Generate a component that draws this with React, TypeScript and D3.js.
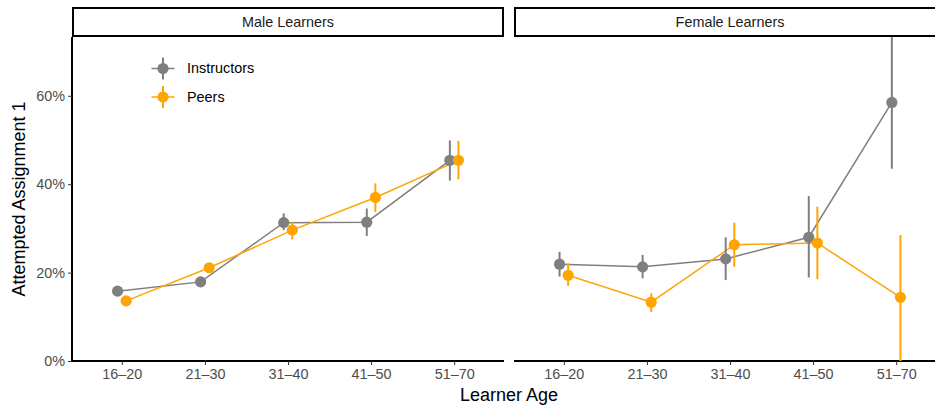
import React, { useEffect, useRef } from 'react';
import * as d3 from 'd3';

// chart values
const ageGroups = ['16–20', '21–30', '31–40', '41–50', '51–70'];
const panels = ['Male Learners', 'Female Learners'];
const groups = ['Instructors', 'Peers'];
const yTicks = [0, 0.2, 0.4, 0.6];

// Male learners
const maleInstructors = [0.158, 0.179, 0.313, 0.314, 0.454];
const maleInstructorsLow = [0.15, 0.171, 0.296, 0.283, 0.408];
const maleInstructorsHigh = [0.166, 0.187, 0.334, 0.345, 0.499];
const malePeers = [0.136, 0.211, 0.296, 0.37, 0.454];
const malePeersLow = [0.128, 0.203, 0.275, 0.337, 0.411];
const malePeersHigh = [0.144, 0.219, 0.315, 0.402, 0.498];

// Female learners
const femaleInstructors = [0.219, 0.213, 0.231, 0.28, 0.585];
const femaleInstructorsLow = [0.191, 0.187, 0.183, 0.189, 0.435];
const femaleInstructorsHigh = [0.247, 0.24, 0.28, 0.373, 0.74];
const femalePeers = [0.194, 0.133, 0.263, 0.267, 0.144];
const femalePeersLow = [0.17, 0.111, 0.213, 0.185, 0];
const femalePeersHigh = [0.221, 0.153, 0.313, 0.349, 0.285];

const margin = { top: 37, left: 72, bottom: 45 };
const width = 935;
const height = 406;
const panelWidth = 432;
const panelGap = 10;
const stripTop = 8;

function App() {
  const svgRef = useRef(null);

  useEffect(() => {
    const svg = d3.select(svgRef.current);
    svg.selectAll('*').remove();

    const font = '"Liberation Sans", Arial, Helvetica, sans-serif';
    const colors = { Instructors: '#7f7f7f', Peers: '#ffa500' };
    const plotBottom = height - margin.bottom;
    const smallText = '14.4px';
    const titleText = '18px';

    const y = d3.scaleLinear().domain([0, 0.733]).range([plotBottom, margin.top]);

    const panelData = [
      {
        name: panels[0],
        series: [
          { group: groups[0], v: maleInstructors, lo: maleInstructorsLow, hi: maleInstructorsHigh },
          { group: groups[1], v: malePeers, lo: malePeersLow, hi: malePeersHigh },
        ],
      },
      {
        name: panels[1],
        series: [
          { group: groups[0], v: femaleInstructors, lo: femaleInstructorsLow, hi: femaleInstructorsHigh },
          { group: groups[1], v: femalePeers, lo: femalePeersLow, hi: femalePeersHigh },
        ],
      },
    ];

    svg
      .append('defs')
      .selectAll('clipPath')
      .data(panelData)
      .enter()
      .append('clipPath')
      .attr('id', (d, i) => 'clip' + i)
      .append('rect')
      .attr('x', 0)
      .attr('y', 0)
      .attr('width', panelWidth)
      .attr('height', plotBottom - margin.top);

    panelData.forEach((p, pi) => {
      const left = margin.left + pi * (panelWidth + panelGap);
      const x = d3.scalePoint().domain(ageGroups).range([0, panelWidth]).padding(0.6);
      const dodge = { Instructors: -4.3, Peers: 4.3 };

      const g = svg.append('g').attr('transform', 'translate(' + left + ',0)');

      // strip
      g.append('rect')
        .attr('x', 1)
        .attr('y', stripTop)
        .attr('width', panelWidth - 2)
        .attr('height', margin.top - stripTop - 1)
        .attr('fill', 'white')
        .attr('stroke', 'black')
        .attr('stroke-width', 2);
      g.append('text')
        .attr('x', panelWidth / 2)
        .attr('y', (stripTop + margin.top) / 2 + 1)
        .attr('text-anchor', 'middle')
        .attr('dominant-baseline', 'middle')
        .style('font-family', font)
        .style('font-size', smallText)
        .style('fill', '#1a1a1a')
        .text(p.name);

      // x axis
      const xAxis = g
        .append('g')
        .attr('transform', 'translate(0,' + plotBottom + ')')
        .call(d3.axisBottom(x).tickSize(4).tickPadding(4));
      xAxis.select('.domain').attr('stroke', 'black').attr('stroke-width', 2).attr('d', 'M0,0H' + panelWidth);
      xAxis.selectAll('.tick line').attr('stroke', '#333');
      xAxis
        .selectAll('text')
        .style('font-family', font)
        .style('font-size', smallText)
        .style('fill', '#4d4d4d');

      // y axis only on first panel
      if (pi === 0) {
        const yAxis = g
          .append('g')
          .call(
            d3
              .axisLeft(y)
              .tickValues(yTicks)
              .tickFormat(d3.format('.0%'))
              .tickSize(4)
              .tickPadding(3)
          );
        yAxis.select('.domain').attr('stroke', 'black').attr('stroke-width', 2).attr('d', 'M0,' + (plotBottom + 1) + 'V' + margin.top);
        yAxis.selectAll('.tick line').attr('stroke', '#333');
        yAxis
          .selectAll('text')
          .style('font-family', font)
          .style('font-size', smallText)
          .style('fill', '#4d4d4d');
      }

      const plot = g
        .append('g')
        .attr('clip-path', 'url(#clip' + pi + ')')
        .append('g')
        .attr('transform', 'translate(0,' + -margin.top + ')');
      g.select('g[clip-path]').attr('transform', 'translate(0,' + margin.top + ')');

      const line = d3
        .line()
        .x(d => d[0])
        .y(d => d[1]);

      // lines
      p.series.forEach(s => {
        plot
          .append('path')
          .datum(s.v.map((v, i) => [x(ageGroups[i]) + dodge[s.group], y(v)]))
          .attr('fill', 'none')
          .attr('stroke', colors[s.group])
          .attr('stroke-width', 1.5)
          .attr('d', line);
      });

      // point ranges
      p.series.forEach(s => {
        const pts = plot.append('g');
        pts
          .selectAll('line')
          .data(s.v)
          .enter()
          .append('line')
          .attr('x1', (d, i) => x(ageGroups[i]) + dodge[s.group])
          .attr('x2', (d, i) => x(ageGroups[i]) + dodge[s.group])
          .attr('y1', (d, i) => y(s.lo[i]))
          .attr('y2', (d, i) => y(s.hi[i]))
          .attr('stroke', colors[s.group])
          .attr('stroke-width', 2);
        pts
          .selectAll('circle')
          .data(s.v)
          .enter()
          .append('circle')
          .attr('cx', (d, i) => x(ageGroups[i]) + dodge[s.group])
          .attr('cy', d => y(d))
          .attr('r', 5.6)
          .attr('fill', colors[s.group]);
      });
    });

    // legend
    const legendX = 163;
    const legendY = 68.5;
    groups.forEach((grp, i) => {
      const ly = legendY + i * 28.5;
      svg
        .append('line')
        .attr('x1', legendX - 11.5)
        .attr('x2', legendX + 11.5)
        .attr('y1', ly)
        .attr('y2', ly)
        .attr('stroke', colors[grp])
        .attr('stroke-width', 1.5);
      svg
        .append('line')
        .attr('x1', legendX)
        .attr('x2', legendX)
        .attr('y1', ly - 11)
        .attr('y2', ly + 11)
        .attr('stroke', colors[grp])
        .attr('stroke-width', 2);
      svg
        .append('circle')
        .attr('cx', legendX)
        .attr('cy', ly)
        .attr('r', 5.6)
        .attr('fill', colors[grp]);
      svg
        .append('text')
        .attr('x', legendX + 24)
        .attr('y', ly + 1)
        .attr('dominant-baseline', 'middle')
        .style('font-family', font)
        .style('font-size', smallText)
        .style('fill', 'black')
        .text(grp);
    });

    // axis titles
    svg
      .append('text')
      .attr('x', margin.left + panelWidth + panelGap / 2)
      .attr('y', 401)
      .attr('text-anchor', 'middle')
      .style('font-family', font)
      .style('font-size', titleText)
      .style('fill', 'black')
      .text('Learner Age');
    svg
      .append('text')
      .attr('transform', 'translate(25,' + (margin.top + plotBottom) / 2 + ') rotate(-90)')
      .attr('text-anchor', 'middle')
      .style('font-family', font)
      .style('font-size', titleText)
      .style('fill', 'black')
      .text('Attempted Assignment 1');
  }, []);

  return (
    <svg
      ref={svgRef}
      width={width}
      height={height}
      style={{ position: 'absolute', left: 0, top: 0, background: 'white' }}
    />
  );
}

export default App;
